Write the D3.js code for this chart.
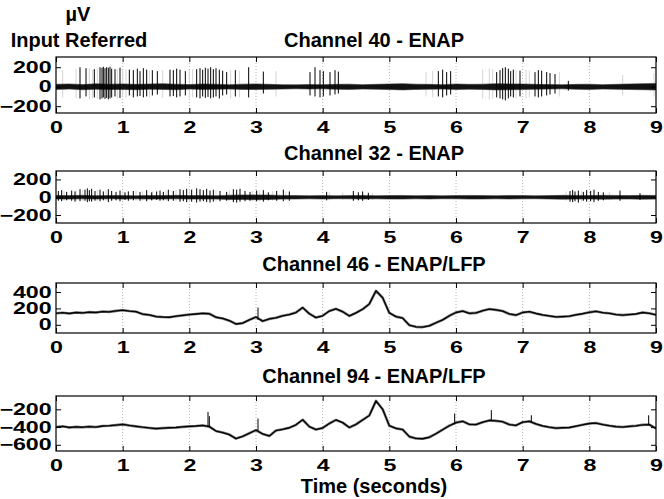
<!DOCTYPE html>
<html>
<head>
<meta charset="utf-8">
<script src="https://cdn.jsdelivr.net/npm/d3@7"></script>
<style>
  body { margin: 0; background: #fff; }
  svg { display: block; font-family: "Liberation Sans", Arial, sans-serif; font-weight: bold; }
</style>
</head>
<body>
<svg id="chart" width="664" height="499"></svg>
<script>
// ---- data ----
const titles = ["Channel 40 - ENAP", "Channel 32 - ENAP", "Channel 46 - ENAP/LFP", "Channel 94 - ENAP/LFP"];
const xTicks = [0, 1, 2, 3, 4, 5, 6, 7, 8, 9];
const yTicks40 = [-200, 0, 200];
const yTicks32 = [-200, 0, 200];
const yTicks46 = [0, 200, 400];
const yTicks94 = [-600, -400, -200];

// noise envelope of the spike channels, one value every 0.2 s
const noiseStep = 0.2;
const ch40NoiseHi = [25,28,22,30,26,29,24,28,31,26,22,28,25,21,26,29,24,21,19,22,21,24,26,21,24,28,31,26,24,21,28,24,26,31,29,28,24,22,21,24,26,21,24,28,31,34];
const ch40NoiseLo = [-28,-24,-31,-26,-29,-28,-31,-26,-28,-31,-24,-28,-26,-24,-28,-29,-26,-24,-21,-24,-22,-26,-28,-24,-26,-29,-33,-28,-26,-24,-29,-26,-28,-33,-31,-29,-26,-24,-22,-26,-28,-24,-26,-29,-31,-34];
const ch32NoiseHi = [20,18,21,17,20,18,16,20,18,21,18,20,17,23,25,26,24,20,18,17,18,16,18,20,17,18,20,17,18,16,18,20,18,17,20,18,16,18,21,20,18,21,20,18,21,20];
const ch32NoiseLo = [-20,-21,-18,-20,-17,-20,-18,-21,-20,-18,-20,-21,-20,-25,-26,-28,-25,-21,-20,-18,-20,-17,-18,-20,-18,-20,-21,-18,-20,-17,-18,-21,-20,-18,-20,-18,-17,-20,-22,-21,-20,-22,-21,-20,-22,-21];

// spikes: [time s, peak uV, trough uV]
const ch40Spikes = [
  [0.36,200,-120],[0.45,190,-100],[0.575,180,-110],[0.66,200,-130],[0.69,195,-120],[0.71,205,-110],
  [0.735,190,-125],[0.76,200,-115],[0.785,195,-130],[0.81,205,-120],[0.835,185,-110],[0.885,180,-100],
  [0.96,195,-115],[1.1,175,-90],[1.16,170,-110],[1.22,185,-100],[1.26,160,-95],[1.31,190,-110],
  [1.36,175,-100],[1.445,170,-90],[1.52,160,-80],[1.71,175,-100],[1.76,170,-95],[1.81,185,-110],
  [1.86,175,-100],[1.94,160,-90],[2.11,180,-110],[2.16,190,-120],[2.2,175,-100],[2.24,195,-115],
  [2.28,185,-105],[2.32,200,-120],[2.36,180,-110],[2.4,190,-100],[2.45,175,-120],[2.5,165,-90],
  [2.56,150,-80],[2.69,170,-100],[2.89,200,-110],[3.11,155,-70],[3.81,150,-90],[3.885,200,-100],
  [3.96,170,-110],[4.01,160,-100],[4.11,150,-90],[4.185,170,-80],[4.235,155,-70],[5.735,160,-100],
  [5.8,175,-110],[5.86,150,-90],[5.92,160,-80],[6.61,150,-110],[6.66,170,-120],[6.7,190,-130],
  [6.74,200,-140],[6.785,185,-120],[6.82,160,-100],[6.86,175,-110],[6.96,165,-100],[7.185,150,-100],
  [7.235,170,-110],[7.285,165,-100],[7.36,150,-90],[7.41,140,-80],[7.485,130,-70],[7.685,60,-40]
];
const ch40Faint = [
  [0.1,170,-110],[0.3,180,-120],[0.5,190,-130],[0.55,175,-120],[0.62,185,-125],[0.92,180,-120],
  [1.0,170,-110],[1.05,175,-115],[1.4,165,-110],[1.6,170,-115],[2.0,175,-120],[2.05,180,-110],
  [2.62,170,-120],[2.75,165,-110],[3.3,160,-100],[5.55,150,-100],[5.65,160,-110],[6.4,175,-120],
  [6.5,185,-130],[6.55,180,-125],[6.9,175,-120],[7.05,170,-115],[7.1,165,-110],[7.55,150,-100],
  [8.5,120,-90],[8.97,140,-100]
];
const ch32Spikes = [
  [0.035,70,-40],[0.085,80,-45],[0.16,60,-35],[0.235,75,-40],[0.285,65,-50],[0.36,90,-45],
  [0.435,85,-40],[0.47,100,-55],[0.5,80,-45],[0.535,95,-50],[0.585,70,-40],[0.66,85,-45],
  [0.71,65,-35],[0.785,90,-55],[0.835,70,-40],[0.9,60,-35],[0.96,75,-45],[1.035,55,-30],
  [1.085,65,-40],[1.16,70,-35],[1.26,60,-40],[1.36,80,-45],[1.435,55,-35],[1.51,65,-30],
  [1.56,75,-40],[1.61,60,-35],[1.685,85,-45],[1.76,70,-40],[1.86,90,-50],[1.91,80,-45],
  [1.96,95,-55],[2.035,85,-50],[2.11,100,-60],[2.16,90,-50],[2.21,80,-45],[2.26,95,-55],
  [2.31,75,-60],[2.36,85,-50],[2.46,70,-45],[2.56,60,-40],[2.66,90,-55],[2.71,85,-60],
  [2.76,95,-50],[2.835,70,-45],[2.91,60,-40],[3.01,75,-45],[3.11,80,-50],[3.185,55,-35],
  [3.31,70,-40],[3.41,85,-45],[3.5,65,-40],[4.06,60,-35],[4.46,70,-40],[4.535,55,-35],
  [4.6,65,-40],[4.685,50,-30],[7.71,70,-50],[7.75,80,-55],[7.785,65,-45],[7.835,75,-60],
  [7.91,60,-40],[7.96,80,-50],[8.02,70,-45],[8.07,85,-55],[8.135,60,-40],[8.21,55,-35],
  [8.46,75,-40],[8.76,45,-30]
];
const ch32Faint = [
  [0.12,70,-40],[0.3,75,-45],[0.4,80,-40],[0.62,85,-45],[0.75,80,-40],[1.0,70,-40],[1.2,75,-45],
  [1.3,70,-40],[1.45,65,-35],[1.65,75,-40],[1.8,80,-45],[2.0,85,-45],[2.4,80,-45],[2.6,75,-40],
  [2.95,70,-40],[3.05,75,-45],[3.25,70,-40],[3.45,65,-35],[4.1,60,-35],[4.3,55,-30],[4.75,50,-30],
  [7.65,65,-40],[7.88,70,-45],[8.3,60,-35]
];

// LFP traces, one value every 0.1 s
const lfpStep = 0.1;
const ch46Lfp = [140,148,138,150,145,155,150,162,158,170,178,168,160,130,120,100,95,92,105,115,
  125,132,140,135,92,78,50,10,20,60,95,45,72,85,110,125,150,210,135,88,
  110,168,195,160,108,145,190,255,415,330,145,100,82,-5,-25,-28,-12,25,60,110,
  150,168,140,145,172,192,182,168,132,118,150,160,138,120,108,96,100,105,122,135,
  152,165,148,140,125,118,125,132,150,140,122];
const ch94Lfp = [-400,-392,-405,-398,-402,-395,-400,-388,-385,-378,-370,-382,-392,-402,-410,-418,-412,-408,-405,-398,
  -392,-388,-382,-395,-445,-462,-485,-530,-505,-470,-435,-478,-500,-440,-425,-408,-375,-318,-395,-428,
  -410,-360,-320,-350,-405,-370,-320,-270,-105,-200,-385,-415,-428,-508,-528,-532,-515,-475,-430,-385,
  -350,-335,-370,-372,-345,-325,-330,-340,-372,-382,-345,-335,-365,-388,-402,-412,-408,-405,-390,-375,
  -360,-355,-372,-385,-395,-400,-392,-386,-375,-372,-415];
const ch46Spikes = [[3.03,210,60]];
const ch94Spikes = [[2.28,-229,-390],[2.3,-278,-395],[3.03,-304,-440],[5.98,-247,-370],[6.53,-210,-330],[7.13,-267,-345],[8.89,-267,-380]];

// ---- layout ----
const svg = d3.select("#chart");
const x = d3.scaleLinear().domain([0, 9]).range([56, 656]);
const titleX = 374;

const panels = [
  { title: titles[0], top: 57, bottom: 113, domain: [-270, 305], ticks: yTicks40, titleY: 46.5,
    noiseHi: ch40NoiseHi, noiseLo: ch40NoiseLo, spikes: ch40Spikes, faint: ch40Faint },
  { title: titles[1], top: 171, bottom: 223, domain: [-290, 295], ticks: yTicks32, titleY: 159.5,
    noiseHi: ch32NoiseHi, noiseLo: ch32NoiseLo, spikes: ch32Spikes, faint: ch32Faint },
  { title: titles[2], top: 283, bottom: 333, domain: [-100, 510], ticks: yTicks46, titleY: 270.5,
    lfp: ch46Lfp, spikes: ch46Spikes, faint: [] },
  { title: titles[3], top: 396, bottom: 451, domain: [-670, -50], ticks: yTicks94, titleY: 382.5,
    lfp: ch94Lfp, spikes: ch94Spikes, faint: [] }
];

const labelStretch = "scale(1.45,1)";

panels.forEach((p, k) => {
  const y = d3.scaleLinear().domain(p.domain).range([p.bottom, p.top]);
  const g = svg.append("g");

  g.append("clipPath").attr("id", "clip" + k)
    .append("rect")
    .attr("x", x(0)).attr("y", p.top)
    .attr("width", x(9) - x(0)).attr("height", p.bottom - p.top);

  // dotted grid at every second
  g.append("g")
    .selectAll("line")
    .data(xTicks.slice(1, -1))
    .join("line")
    .attr("x1", d => x(d)).attr("x2", d => x(d))
    .attr("y1", p.top).attr("y2", p.bottom)
    .attr("stroke", "#b0b0b0")
    .attr("stroke-dasharray", "1,2");

  const plot = g.append("g").attr("clip-path", `url(#clip${k})`);

  plot.append("g")
    .selectAll("line")
    .data(p.faint)
    .join("line")
    .attr("x1", d => x(d[0])).attr("x2", d => x(d[0]))
    .attr("y1", d => y(d[2])).attr("y2", d => y(d[1]))
    .attr("stroke", "#d4d4d4")
    .attr("stroke-width", 1);

  if (p.noiseHi) {
    const band = d3.area()
      .x((d, i) => x(i * noiseStep))
      .y0((d, i) => y(p.noiseLo[i]))
      .y1(d => y(d));
    plot.append("path")
      .datum(p.noiseHi)
      .attr("d", band)
      .attr("fill", "#111")
      .attr("stroke", "#333")
      .attr("stroke-width", 0.6);
  }

  if (p.lfp) {
    const line = d3.line()
      .x((d, i) => x(i * lfpStep))
      .y(d => y(d));
    plot.append("path")
      .datum(p.lfp)
      .attr("d", line)
      .attr("fill", "none")
      .attr("stroke", "#777")
      .attr("stroke-width", 2.6)
      .attr("stroke-linejoin", "round");
    plot.append("path")
      .datum(p.lfp)
      .attr("d", line)
      .attr("fill", "none")
      .attr("stroke", "#000")
      .attr("stroke-width", 1.3)
      .attr("stroke-linejoin", "round");
  }

  plot.append("g")
    .selectAll("line")
    .data(p.spikes)
    .join("line")
    .attr("x1", d => x(d[0])).attr("x2", d => x(d[0]))
    .attr("y1", d => y(d[2])).attr("y2", d => y(d[1]))
    .attr("stroke", "#000")
    .attr("stroke-width", 1);

  // axes, ticks pointing inward on all four sides
  const bottomAxis = g.append("g")
    .attr("transform", `translate(0,${p.bottom})`)
    .call(d3.axisBottom(x).tickValues(xTicks).tickFormat(d3.format("d"))
      .tickSizeInner(-5).tickSizeOuter(0).tickPadding(7));
  bottomAxis.selectAll("text")
    .attr("y", 0).attr("dy", 0)
    .attr("transform", `translate(0,20) ${labelStretch}`);

  g.append("g")
    .attr("transform", `translate(0,${p.top})`)
    .call(d3.axisTop(x).tickValues(xTicks).tickFormat("").tickSizeInner(-5).tickSizeOuter(0));

  const leftAxis = g.append("g")
    .attr("transform", `translate(${x(0)},0)`)
    .call(d3.axisLeft(y).tickValues(p.ticks).tickFormat(d3.format("d"))
      .tickSizeInner(-5).tickSizeOuter(0).tickPadding(3));
  leftAxis.selectAll("text").attr("transform", labelStretch);

  g.append("g")
    .attr("transform", `translate(${x(9)},0)`)
    .call(d3.axisRight(y).tickValues(p.ticks).tickFormat("").tickSizeInner(-5).tickSizeOuter(0));

  g.selectAll(".domain").remove();
  g.selectAll(".tick line").attr("stroke", "#000");
  g.selectAll(".tick text")
    .attr("fill", "#000")
    .style("font-family", "'Liberation Sans', Arial, sans-serif")
    .style("font-weight", "bold")
    .style("font-size", "16px");

  g.append("rect")
    .attr("x", x(0)).attr("y", p.top)
    .attr("width", x(9) - x(0)).attr("height", p.bottom - p.top)
    .attr("fill", "none")
    .attr("stroke", "#000")
    .attr("stroke-width", 1.2);

  g.append("text")
    .attr("x", titleX).attr("y", p.titleY)
    .attr("text-anchor", "middle")
    .style("font-size", "20px")
    .text(p.title);
});

svg.append("text")
  .attr("x", 78).attr("y", 20.5)
  .attr("text-anchor", "middle")
  .style("font-size", "20px")
  .text("µV");
svg.append("text")
  .attr("x", 79).attr("y", 46.5)
  .attr("text-anchor", "middle")
  .style("font-size", "20px")
  .text("Input Referred");
svg.append("text")
  .attr("x", 374).attr("y", 493)
  .attr("text-anchor", "middle")
  .style("font-size", "20px")
  .text("Time (seconds)");
</script>
</body>
</html>
